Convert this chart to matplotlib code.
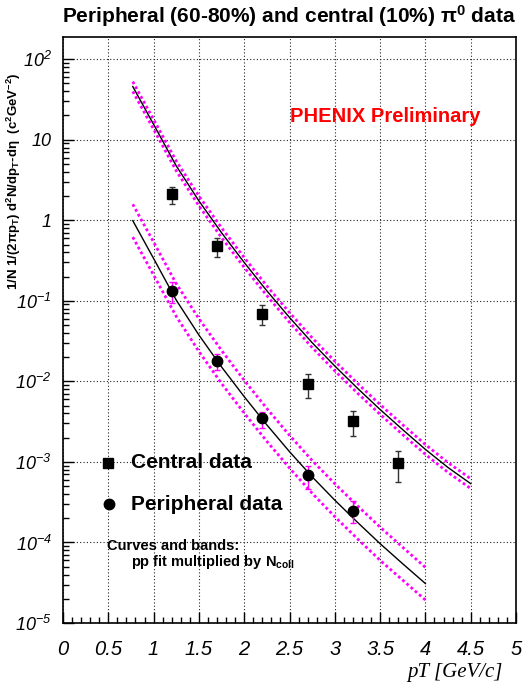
import matplotlib
matplotlib.use("Agg")
import matplotlib.pyplot as plt
from matplotlib.lines import Line2D
from matplotlib.ticker import FixedLocator, MultipleLocator, NullFormatter

plt.rcParams['font.family'] = ['Liberation Sans', 'DejaVu Sans']
plt.rcParams['mathtext.fontset'] = 'custom'
plt.rcParams['mathtext.rm'] = 'Liberation Sans:italic'
plt.rcParams['mathtext.it'] = 'Liberation Sans:italic'
plt.rcParams['mathtext.bf'] = 'Liberation Sans:bold'

# ---- data ----
central_pt = [1.2, 1.7, 2.2, 2.7, 3.2, 3.7]
central_y = [2.1, 0.48, 0.0695, 0.0093, 0.00326, 0.00096]
central_hi = [2.6, 0.60, 0.088, 0.0124, 0.0043, 0.00137]
central_lo = [1.6, 0.35, 0.050, 0.0062, 0.0021, 0.00056]

periph_pt = [1.2, 1.7, 2.2, 2.7, 3.2]
periph_y = [0.132, 0.0177, 0.00349, 0.00068, 0.000247]
periph_hi = [0.172, 0.0217, 0.00422, 0.00088, 0.00033]
periph_lo = [0.093, 0.0137, 0.00262, 0.00046, 0.000175]

curve_c_x = [0.77, 1.0, 1.25, 1.5, 1.75, 2.0, 2.25, 2.5, 2.75, 3.0, 3.25, 3.5, 3.75, 4.0, 4.25, 4.5]
curve_c = [45.7, 15.5, 4.73, 1.74, 0.700, 0.299, 0.133, 0.0621, 0.0302, 0.0155,
           0.00822, 0.00447, 0.00251, 0.00143, 0.000851, 0.000537]
band_c_hi = [52.6, 17.8, 5.44, 2.0, 0.805, 0.344, 0.153, 0.0714, 0.0347, 0.0178,
             0.00945, 0.00514, 0.00289, 0.00164, 0.000979, 0.000618]
band_c_lo = [39.7, 13.5, 4.11, 1.51, 0.609, 0.260, 0.116, 0.054, 0.0263, 0.0135,
             0.00715, 0.00389, 0.00218, 0.00124, 0.000740, 0.000467]

curve_p_x = [0.77, 1.0, 1.25, 1.5, 1.75, 2.0, 2.25, 2.5, 2.75, 3.0, 3.25, 3.5, 3.75, 4.0]
curve_p = [0.989, 0.335, 0.102, 0.0376, 0.0151, 0.00646, 0.00288, 0.00134,
           0.000653, 0.000335, 0.000178, 9.66e-5, 5.43e-5, 3.09e-5]
band_p_hi = [1.58, 0.536, 0.163, 0.060, 0.0242, 0.0103, 0.0046, 0.00214,
             0.00104, 0.000536, 0.000285, 0.000155, 8.7e-5, 4.9e-5]
band_p_lo = [0.618, 0.209, 0.064, 0.0235, 0.0094, 0.00404, 0.0018, 0.00084,
             0.000408, 0.000209, 0.000111, 6.0e-5, 3.4e-5, 1.93e-5]

x_ticks = [0, 0.5, 1, 1.5, 2, 2.5, 3, 3.5, 4, 4.5, 5]
x_ticklabels = ['0', '0.5', '1', '1.5', '2', '2.5', '3', '3.5', '4', '4.5', '5']
y_ticks = [1e-5, 1e-4, 1e-3, 1e-2, 1e-1, 1, 10, 100]
y_ticklabels = [r'10$^{-5}$', r'10$^{-4}$', r'10$^{-3}$', r'10$^{-2}$',
                r'10$^{-1}$', '1', '10', r'10$^{2}$']

W, H = 525, 688
fig = plt.figure(figsize=(W / 100, H / 100), dpi=100)
ax = fig.add_axes([63 / W, 1 - 623 / H, (516 - 63) / W, (623 - 36.7) / H])
ax.set_yscale('log')
ax.set_xlim(0, 5)
ax.set_ylim(1e-5, 190)

ax.grid(True, which='major', linestyle=(0, (1, 2)), color='#222222', lw=0.8)

MAG = '#ff00ff'
dot = (0, (1, 1))
# bands and curves
ax.plot(curve_c_x, band_c_hi, color=MAG, lw=2, ls=dot)
ax.plot(curve_c_x, band_c_lo, color=MAG, lw=2, ls=dot)
ax.plot(curve_c_x, curve_c, color='black', lw=1)
ax.plot(curve_p_x, band_p_hi, color=MAG, lw=2, ls=dot)
ax.plot(curve_p_x, band_p_lo, color=MAG, lw=2, ls=dot)
ax.plot(curve_p_x, curve_p, color='black', lw=1)

# data
c_err = [[y - l for y, l in zip(central_y, central_lo)],
         [h - y for y, h in zip(central_y, central_hi)]]
ax.errorbar(central_pt, central_y, yerr=c_err, fmt='s', color='black', ms=7,
            ecolor='#333333', elinewidth=1, capsize=2.5, capthick=1)
p_err = [[y - l for y, l in zip(periph_y, periph_lo)],
         [h - y for y, h in zip(periph_y, periph_hi)]]
ax.errorbar(periph_pt, periph_y, yerr=p_err, fmt='o', color='black', ms=7.5,
            ecolor=MAG, elinewidth=1, capsize=2.5, capthick=1)

# ticks
ax.xaxis.set_major_locator(FixedLocator(x_ticks))
ax.set_xticklabels(x_ticklabels, fontstyle='italic', fontsize=14.5)
ax.xaxis.set_minor_locator(MultipleLocator(0.1))
ax.yaxis.set_major_locator(FixedLocator(y_ticks))
ax.set_yticklabels(y_ticklabels, fontsize=13, fontstyle='italic')
minor_y = [m * 10.0 ** e for e in range(-5, 3) for m in range(2, 10)]
ax.yaxis.set_minor_locator(FixedLocator(minor_y))
ax.yaxis.set_minor_formatter(NullFormatter())
ax.tick_params(which='both', direction='in', top=False, right=False)
ax.tick_params(which='major', length=8, width=1)
ax.tick_params(which='minor', length=4, width=1)
ax.tick_params(axis='x', pad=12)
ax.tick_params(axis='y', pad=8)
for s in ax.spines.values():
    s.set_linewidth(1.2)


def fx(px):
    return px / W


def fy(py):
    return 1 - py / H


# title
fig.text(fx(289), fy(16), r'Peripheral (60-80%) and central (10%) π$^{\mathbf{0}}$ data',
         ha='center', va='center', fontsize=15, fontweight='bold')

# y label
fig.text(fx(14), fy(72), r'1/N 1/(2πp$_{\mathbf{T}}$) d$^{\mathbf{2}}$N/dp$_{\mathbf{T}}$-dη  (c$^{\mathbf{2}}$GeV$^{\mathbf{-2}}$)',
         rotation=90, ha='center', va='top', fontsize=9.5, fontweight='bold')

# x label
fig.text(fx(503), fy(673), 'pT [GeV/c]', ha='right', va='center', fontsize=15,
         fontstyle='italic', family='Liberation Serif')

# PHENIX Preliminary
fig.text(fx(290), fy(117), 'PHENIX Preliminary', ha='left', va='center', fontsize=14.5,
         fontweight='bold', color='#ff0000')

# legend
fig.add_artist(Line2D([fx(108)], [fy(462.5)], marker='s', color='black', ms=7, ls='none'))
fig.text(fx(131), fy(462.5), 'Central data', ha='left', va='center', fontsize=15, fontweight='bold')
fig.add_artist(Line2D([fx(109)], [fy(504)], marker='o', color='black', ms=7.5, ls='none'))
fig.text(fx(131), fy(504), 'Peripheral data', ha='left', va='center', fontsize=15, fontweight='bold')
fig.text(fx(107), fy(546), 'Curves and bands:', ha='left', va='center', fontsize=10.5, fontweight='bold')
fig.text(fx(131), fy(562), r'pp fit multiplied by N$_{\mathbf{coll}}$', ha='left', va='center',
         fontsize=10.5, fontweight='bold')

fig.savefig('out.png', dpi=100)
